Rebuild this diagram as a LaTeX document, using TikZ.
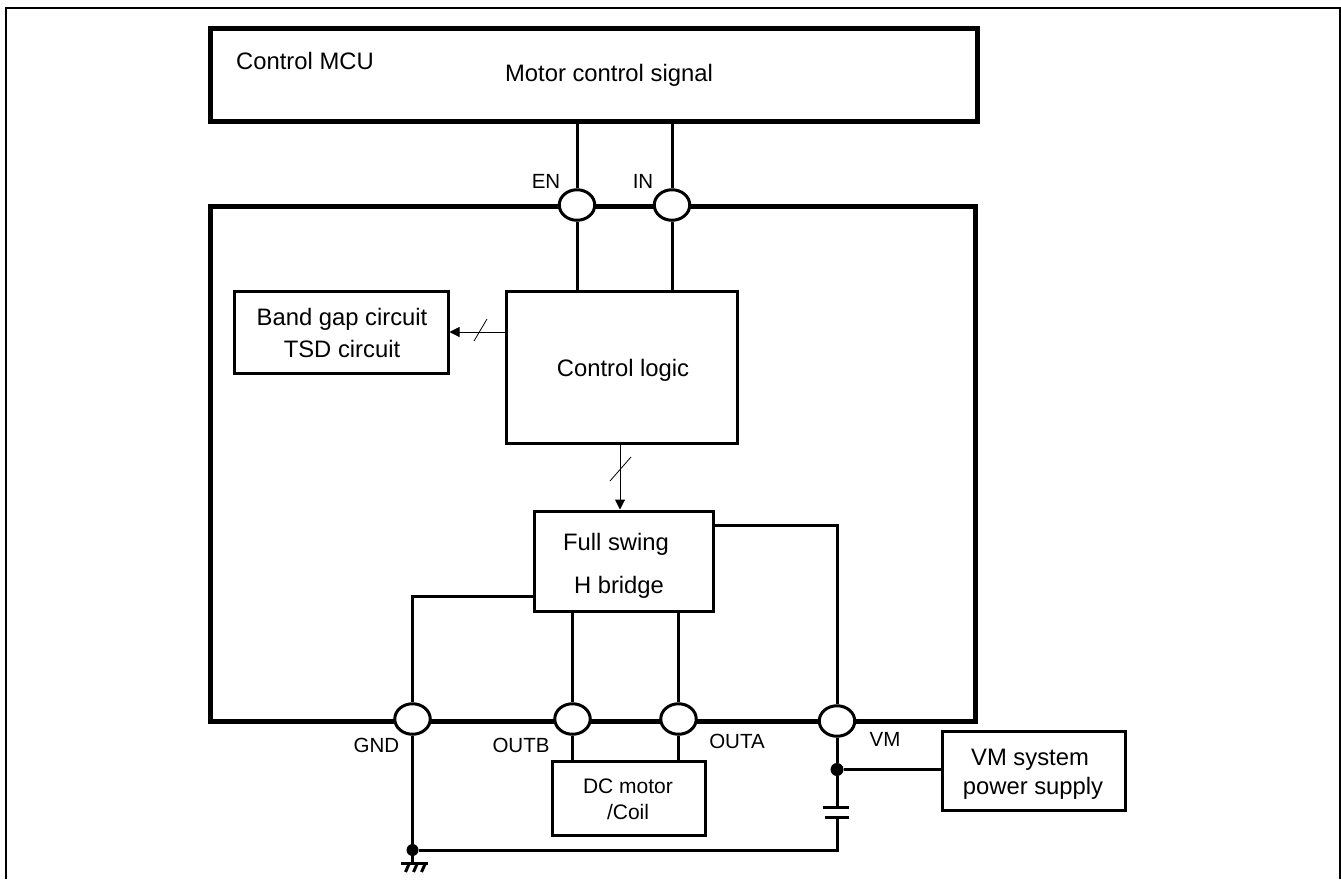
\documentclass[tikz,border=0pt]{standalone}
\usepackage{fontspec}
\setmainfont{Liberation Sans}
\usetikzlibrary{arrows.meta,calc}
\tikzset{
	heavybox/.style={draw, line width=5pt, inner sep=0, rectangle},
	blockbox/.style={draw, line width=3pt, inner sep=0, rectangle},
	pin/.style={draw, fill=white, line width=3pt, ellipse, minimum width=35.5pt, minimum height=30.5pt, inner sep=0},
	wire/.style={line width=3pt},
	thinwire/.style={line width=1pt, -{Triangle[length=10pt,width=10pt]}},
	slash/.style={line width=0.8pt},
	junction/.style={circle, fill=black, minimum size=13pt, inner sep=0},
	lbl/.style={anchor=base, inner sep=0, font=\fontsize{23.8}{28}\selectfont},
	pinlbl/.style={anchor=base, inner sep=0, font=\fontsize{20.5}{24}\selectfont},
	motorlbl/.style={anchor=base, inner sep=0, font=\fontsize{21}{25}\selectfont}
}
\usetikzlibrary{shapes.geometric}

\begin{document}
\begin{tikzpicture}[x=1pt, y=-1pt]
	\useasboundingbox (0, 0) rectangle (1341, 879);
	
	% outer frame, open at the bottom
	\draw[line width=2pt] (6, 879) -- (6, 8) -- (1340, 8) -- (1340, 879);
	
	% blocks
	\node[heavybox, minimum width=767pt, minimum height=93pt] (mcu) at (593.5, 74.5) {};
	\node[heavybox, minimum width=765pt, minimum height=515.5pt] (chip) at (592.5, 463.75) {};
	\node[blockbox, minimum width=231pt, minimum height=152pt] (logic) at (621.5, 367) {};
	\node[blockbox, minimum width=214pt, minimum height=82pt] (band) at (341, 332) {};
	\node[blockbox, minimum width=179pt, minimum height=100pt] (bridge) at (623.5, 561) {};
	\node[blockbox, minimum width=153pt, minimum height=74pt] (motor) at (628.5, 798) {};
	\node[blockbox, minimum width=183pt, minimum height=79pt] (supply) at (1033.5, 770.5) {};
	
	% pins on the chip outline
	\node[pin] (pinEN) at (577, 205) {};
	\node[pin] (pinIN) at (672, 205) {};
	\node[pin] (pinGND) at (412.5, 719) {};
	\node[pin] (pinOUTB) at (572.5, 719) {};
	\node[pin] (pinOUTA) at (678.5, 719) {};
	\node[pin] (pinVM) at (837, 721) {};
	
	% dots and capacitor
	\node[junction] (dotVM) at (837, 769.5) {};
	\node[junction, minimum size=12pt] (dotGND) at (412.5, 850) {};
	\coordinate (capTop) at (837, 807);
	\coordinate (capBot) at (837, 817);
	\coordinate (earth) at (412.5, 863);
	
	% connections
	\draw[wire] (mcu.south -| pinEN) -- (pinEN);
	\draw[wire] (mcu.south -| pinIN) -- (pinIN);
	\draw[wire] (pinEN) -- (logic.north -| pinEN);
	\draw[wire] (pinIN) -- (logic.north -| pinIN);
	\draw[wire] ([yshift=16pt]bridge.south west) -| (pinGND);
	\draw[wire] (bridge.south -| pinOUTB) -- (pinOUTB);
	\draw[wire] (bridge.south -| pinOUTA) -- (pinOUTA);
	\draw[wire] ([yshift=-16pt]bridge.north east) -| (pinVM);
	\draw[wire] (pinOUTB) -- (motor.north -| pinOUTB);
	\draw[wire] (pinOUTA) -- (motor.north -| pinOUTA);
	\draw[wire] (pinGND) -- (dotGND);
	\draw[wire] (pinVM) -- (dotVM);
	\draw[wire] (dotVM) -- (supply.west |- dotVM);
	\draw[wire] (dotVM) -- (capTop);
	\draw[wire] ([xshift=-14pt]capTop) -- ([xshift=12pt]capTop);
	\draw[wire] ([xshift=-12pt]capBot) -- ([xshift=12pt]capBot);
	\draw[wire] (capBot) -- (capBot |- dotGND) -- (dotGND);
	
	% ground symbol
	\draw[wire] (dotGND) -- (earth);
	\draw[wire] ([xshift=-12pt]earth) -- ([xshift=15pt]earth);
	\draw[wire] ([xshift=-3pt]earth) -- ([xshift=-7pt, yshift=-9pt]earth);
	\draw[wire] ([xshift=5pt]earth) -- ([xshift=1pt, yshift=-9pt]earth);
	\draw[wire] ([xshift=13pt]earth) -- ([xshift=9pt, yshift=-9pt]earth);
	
	% bus arrows
	\draw[thinwire] (logic.west |- band.east) -- (band.east);
	\draw[thinwire] (logic.south -| 620, 0) -- (bridge.north -| 620, 0);
	\draw[slash] (474, 341) -- (487, 319);
	\draw[slash] (610, 481) -- (631, 457);
	
	% labels
	\node[lbl, anchor=base west] (txtMCU) at (236, 69) {Control MCU};
	\node[lbl] (txtSignal) at (609, 81) {Motor control signal};
	\node[lbl] (txtLogic) at (623, 376) {Control logic};
	\node[lbl] (txtBand) at (342, 325) {Band gap circuit};
	\node[lbl] (txtTSD) at (342, 357) {TSD circuit};
	\node[lbl] (txtSwing) at (616, 550) {Full swing};
	\node[lbl] (txtH) at (619, 593) {H bridge};
	\node[motorlbl] (txtDC) at (628, 793) {DC motor};
	\node[motorlbl] (txtCoil) at (628, 819) {/Coil};
	\node[lbl] (txtVM) at (1030, 765) {VM system};
	\node[lbl] (txtPower) at (1033, 794) {power supply};
	\node[pinlbl] (lblEN) at (546, 188) {EN};
	\node[pinlbl] (lblIN) at (643, 188) {IN};
	\node[pinlbl] (lblGND) at (376.5, 752) {GND};
	\node[pinlbl] (lblOUTB) at (521, 752) {OUTB};
	\node[pinlbl] (lblOUTA) at (737, 748) {OUTA};
	\node[pinlbl] (lblVM) at (885, 746) {VM};
\end{tikzpicture}
\end{document}
